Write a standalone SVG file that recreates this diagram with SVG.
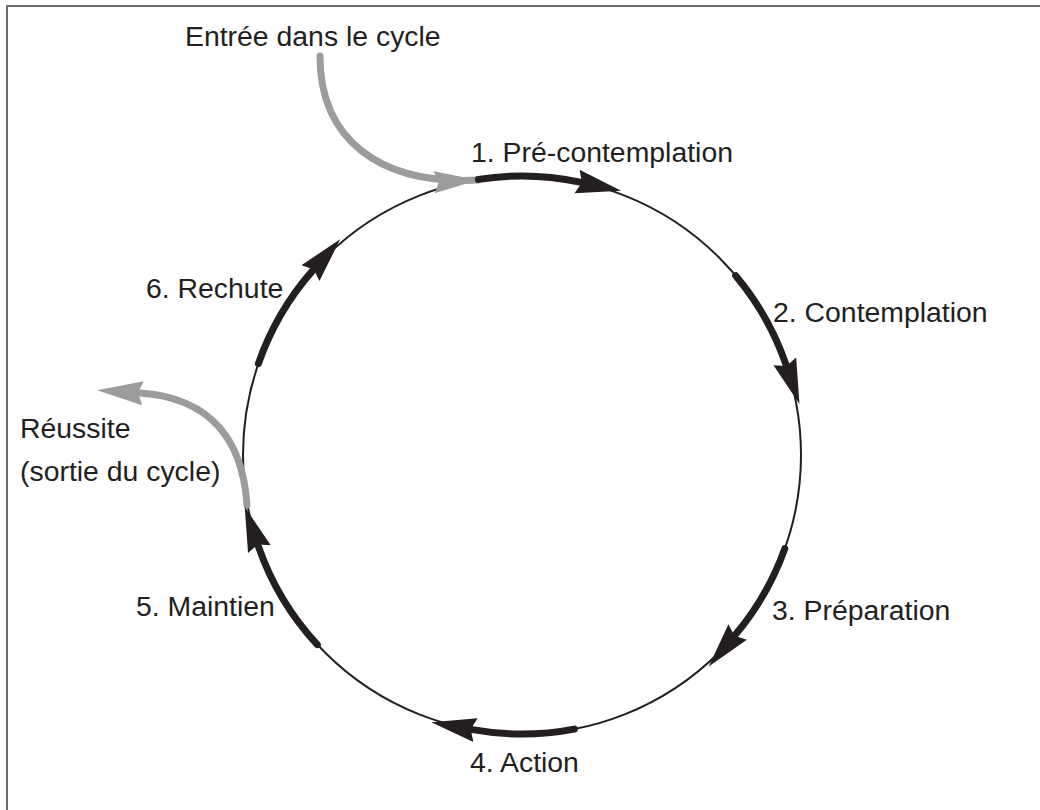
<svg xmlns="http://www.w3.org/2000/svg" width="1040" height="810" viewBox="0 0 1040 810">
  <style>
    .lbl { font-family: "Liberation Sans", Arial, sans-serif; font-size: 28.4px; fill: #231f20; }
    .ring { fill: none; stroke: #231f20; stroke-width: 2; }
    .stage { fill: none; stroke: #231f20; stroke-width: 7; stroke-linecap: round; marker-end: url(#headBlack); }
    .flow { fill: none; stroke: #9b9c9e; stroke-width: 7; stroke-linecap: round; }
    .frame { fill: none; stroke: #6d6e70; stroke-width: 2; }
  </style>
  <defs>
    <marker id="headBlack" viewBox="0 -14 50 28" markerWidth="50" markerHeight="28" refX="3" refY="0" orient="auto" markerUnits="userSpaceOnUse">
      <path d="M0,-12 L45,0 L0,12 L5,0 Z" fill="#231f20"/>
    </marker>
    <marker id="headGray" viewBox="0 -14 50 28" markerWidth="50" markerHeight="28" refX="3" refY="0" orient="auto" markerUnits="userSpaceOnUse">
      <path d="M0,-12 L46,0 L0,12 L5,0 Z" fill="#9b9c9e"/>
    </marker>
    <marker id="tipGray" viewBox="0 -14 50 28" markerWidth="50" markerHeight="28" refX="44" refY="0" orient="auto" markerUnits="userSpaceOnUse">
      <path d="M0,-11 L44,0 L0,11 L5,0 Z" fill="#9b9c9e"/>
    </marker>
  </defs>

  <path class="frame" d="M7,810 V6 H1040"/>

  <g id="connectors">
    <circle class="ring" cx="522" cy="455" r="279"/>
    <path id="entry" class="flow" d="M320,56 C320,140 380,185 478,180" stroke-linecap="butt" marker-end="url(#tipGray)"/>
    <path id="exit" class="flow" d="M247,505 C243,445 215,398 140,393" stroke-linecap="butt" marker-end="url(#headGray)"/>
  </g>

  <g id="entree">
    <text class="lbl" x="185" y="46">Entrée dans le cycle</text>
  </g>

  <g id="stage-1">
    <path class="stage" d="M478.4,179.4 A279,279 0 0 1 580,182.1"/>
    <text class="lbl" x="471" y="162">1. Pré-contemplation</text>
  </g>

  <g id="stage-2">
    <path class="stage" d="M735.7,275.7 A279,279 0 0 1 785.8,364.2"/>
    <text class="lbl" x="773" y="322">2. Contemplation</text>
  </g>

  <g id="stage-3">
    <path class="stage" d="M784.8,548.6 A279,279 0 0 1 735.7,634.3"/>
    <text class="lbl" x="772" y="620">3. Préparation</text>
  </g>

  <g id="stage-4">
    <path class="stage" d="M574.3,729.1 A279,279 0 0 1 472.6,729.6"/>
    <text class="lbl" x="470" y="772">4. Action</text>
  </g>

  <g id="stage-5">
    <path class="stage" d="M317.3,644.6 A279,279 0 0 1 258.4,546.3"/>
    <text class="lbl" x="136" y="616">5. Maintien</text>
  </g>

  <g id="stage-6">
    <path class="stage" d="M258.4,363.7 A279,279 0 0 1 312.4,270.9"/>
    <text class="lbl" x="146" y="298">6. Rechute</text>
  </g>

  <g id="sortie">
    <text class="lbl" x="20" y="438">Réussite</text>
    <text class="lbl" x="20" y="481">(sortie du cycle)</text>
  </g>
</svg>
